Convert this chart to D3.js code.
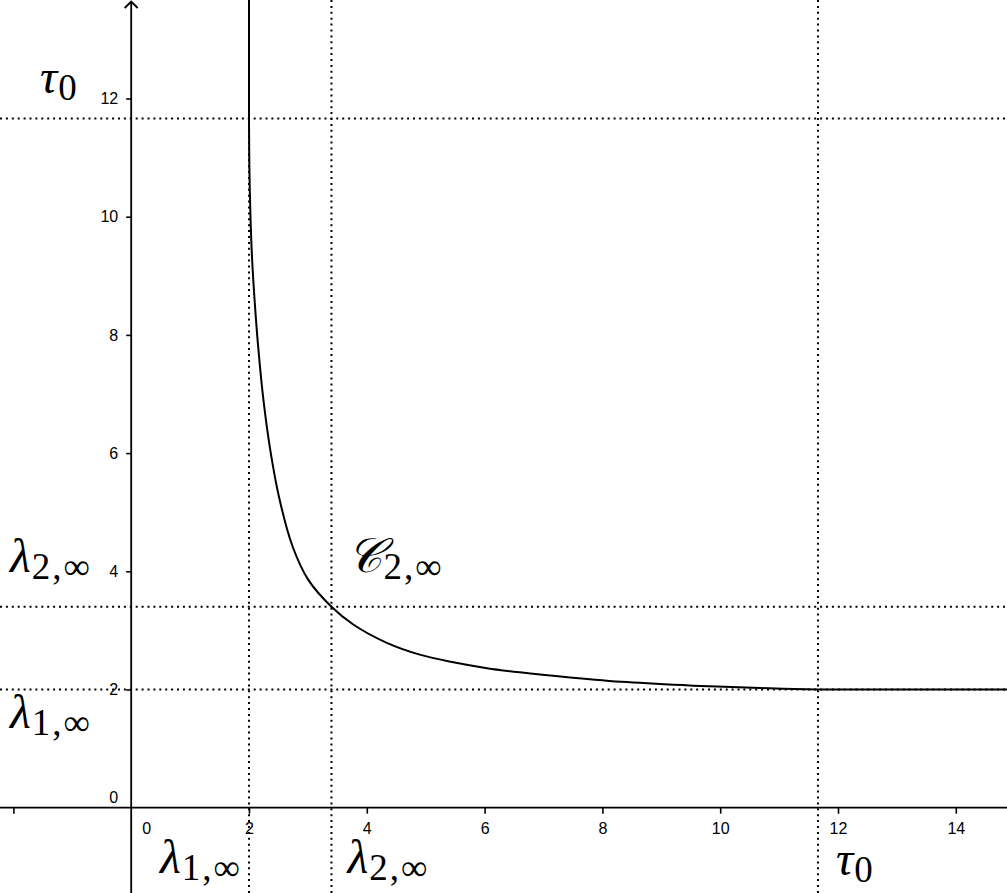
<!DOCTYPE html>
<html>
<head>
<meta charset="utf-8">
<script src="https://cdn.jsdelivr.net/npm/d3@7"></script>
<style>
  body { margin: 0; background: #fff; }
  svg { display: block; }
</style>
</head>
<body>
<svg id="chart" width="1007" height="893"></svg>
<script>
// tick values
const xTicks = [-2, 0, 2, 4, 6, 8, 10, 12, 14];
const yTicks = [0, 2, 4, 6, 8, 10, 12];

// reference levels
const lam1 = 2;
const lam2 = 3.40;
const tau0 = 11.66;
const levels = [lam1, lam2, tau0];

// vertical piece of C_{2,inf} above tau0
const stemX = [2, 2];
const stemY = [13.8, 11.66];

// curved piece of C_{2,inf}
const curveX = [2, 2.006, 2.025, 2.052, 2.094, 2.16, 2.245, 2.36, 2.52, 2.74, 3.01, 3.40,
                3.77, 4.34, 4.90, 5.47, 6.04, 6.60, 7.45, 8.41, 9.54, 10.68, 11.66];
const curveY = [11.66, 10.85, 10.0, 9.3, 8.6, 7.75, 6.9, 6.06, 5.21, 4.42, 3.85, 3.40,
                3.10, 2.79, 2.59, 2.46, 2.36, 2.29, 2.205, 2.125, 2.065, 2.025, 2.0];

// flat piece beyond tau0
const tailX = [11.66, 14.9];
const tailY = [2.0, 2.0];

const W = 1007, H = 893;
const $svg = d3.select("#chart");

// scales
const x = d3.scaleLinear().domain([0, 14]).range([131.2, 955.8]);
const y = d3.scaleLinear().domain([0, 12]).range([807.7, 98.5]);

// dotted guide lines
const $guides = $svg.append("g")
    .attr("stroke", "#000")
    .attr("stroke-width", 2)
    .attr("stroke-dasharray", "2,3.9");

$guides.selectAll(".h")
  .data(levels)
  .join("line")
    .attr("class", "h")
    .attr("x1", 0).attr("x2", W)
    .attr("y1", d => y(d)).attr("y2", d => y(d));

$guides.selectAll(".v")
  .data(levels)
  .join("line")
    .attr("class", "v")
    .attr("y1", 0).attr("y2", H)
    .attr("x1", d => x(d)).attr("x2", d => x(d));

// axis lines
const $axes = $svg.append("g").attr("stroke", "#000").attr("stroke-width", 1.8).attr("fill", "none");
$axes.append("line")
    .attr("x1", 0).attr("x2", W)
    .attr("y1", y(0)).attr("y2", y(0));
$axes.append("line")
    .attr("x1", x(0)).attr("x2", x(0))
    .attr("y1", H).attr("y2", 1.5);
$axes.append("path")
    .attr("d", `M${x(0) - 6.5},8 L${x(0)},1.5 L${x(0) + 6.5},8`);

// ticks
const xAxis = d3.axisBottom(x)
    .tickValues(xTicks)
    .tickSize(6)
    .tickSizeOuter(0)
    .tickPadding(9)
    .tickFormat(d => d === -2 ? "" : d);

const yAxis = d3.axisLeft(y)
    .tickValues(yTicks)
    .tickSize(5)
    .tickSizeOuter(0)
    .tickPadding(8)
    .tickFormat(d => d);

const $xAxis = $svg.append("g").attr("transform", `translate(0,${y(0)})`).call(xAxis);
const $yAxis = $svg.append("g").attr("transform", `translate(${x(0)},0)`).call(yAxis);

[$xAxis, $yAxis].forEach(g => {
    g.select(".domain").remove();
    g.selectAll(".tick line").attr("stroke", "#000").attr("stroke-width", 1.6);
    g.selectAll(".tick text")
        .attr("fill", "#000")
        .style("font-family", "'Liberation Sans', Arial, sans-serif")
        .style("font-size", "16px");
});

const zeroX = $xAxis.selectAll(".tick").filter(d => d === 0);
zeroX.select("line").remove();
zeroX.select("text").attr("x", 15);

const zeroY = $yAxis.selectAll(".tick").filter(d => d === 0);
zeroY.select("line").remove();
zeroY.select("text").attr("y", -10);

// the curve
const toPts = (xs, ys) => xs.map((v, i) => [v, ys[i]]);
const straight = d3.line().x(d => x(d[0])).y(d => y(d[1]));
const smooth = d3.line().x(d => x(d[0])).y(d => y(d[1])).curve(d3.curveCatmullRom.alpha(0.5));

const $curve = $svg.append("g")
    .attr("fill", "none")
    .attr("stroke", "#000")
    .attr("stroke-width", 2);

$curve.append("path").datum(toPts(stemX, stemY)).attr("d", straight);
$curve.append("path").datum(toPts(curveX, curveY)).attr("d", smooth);
$curve.append("path").datum(toPts(tailX, tailY)).attr("d", straight);

// math labels
const serif = "'Liberation Serif', 'DejaVu Serif', serif";
function mathLabel(px, py, main, sub) {
    const t = $svg.append("text")
        .attr("x", px)
        .attr("y", py)
        .style("font-family", serif)
        .attr("fill", "#000");
    t.append("tspan")
        .style("font-size", "48px")
        .style("font-style", "italic")
        .text(main);
    t.append("tspan")
        .style("font-size", "37px")
        .style("letter-spacing", "2px")
        .attr("dy", 7)
        .attr("dx", 1)
        .text(sub);
    return t;
}

mathLabel(40, y(tau0) - 26, "τ", "0");
mathLabel(10, y(lam2) - 35, "λ", "2,∞");
mathLabel(10, y(lam1) + 38, "λ", "1,∞");
mathLabel(x(lam2) + 16, y(lam2) - 35, "𝒞", "2,∞");
mathLabel(x(lam1) - 89, 873, "λ", "1,∞");
mathLabel(x(lam2) + 16, 873, "λ", "2,∞");
mathLabel(x(tau0) + 18, 875, "τ", "0");
</script>
</body>
</html>
